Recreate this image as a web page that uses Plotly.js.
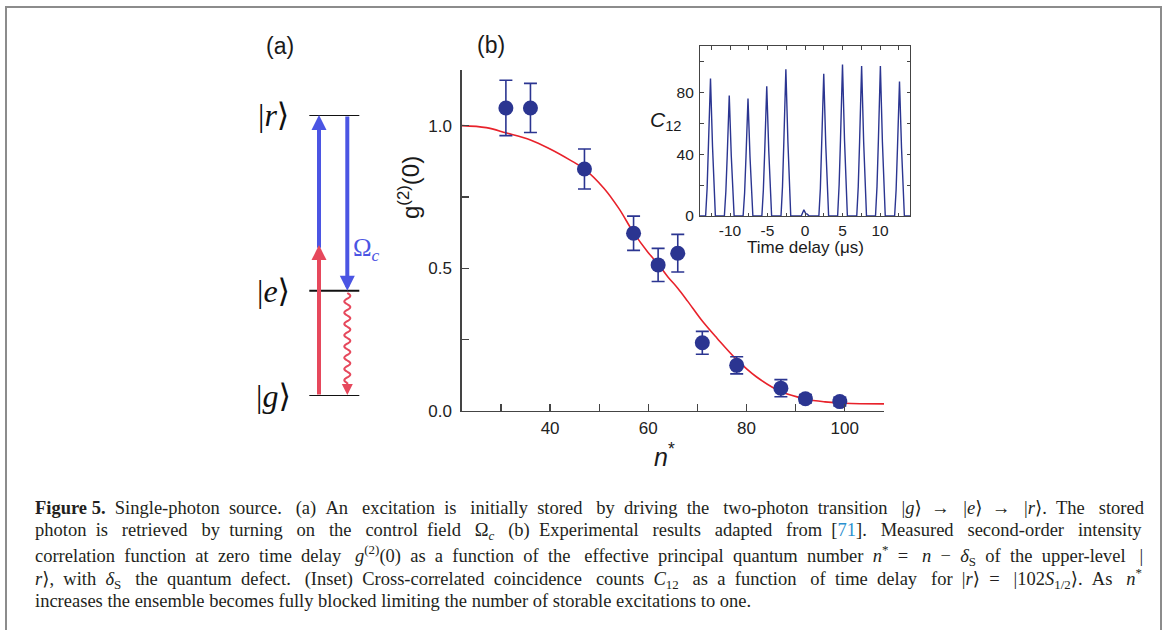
<!DOCTYPE html>
<html>
<head>
<meta charset="utf-8">
<script src="https://cdn.plot.ly/plotly-3.0.1.min.js"></script>
<style>html,body{margin:0;padding:0;background:#fff;}#chart{width:1165px;height:630px;}</style>
</head>
<body>
<div id="chart"></div>
<script>
// ---------- DATA ----------
// Panel (b): measured g2(0) vs n*
const nStar   = [31, 36, 47, 57, 62, 66, 71, 78, 87, 92, 99];
const g2      = [1.062, 1.062, 0.848, 0.623, 0.512, 0.553, 0.239, 0.160, 0.080, 0.043, 0.033];
const g2Err   = [0.097, 0.086, 0.070, 0.060, 0.058, 0.066, 0.040, 0.030, 0.030, 0.015, 0.015];
// Fit curve
const fitN    = [22, 27, 31, 36, 40, 44, 47, 51, 54, 57, 60, 62, 64, 66, 68, 71, 74, 78, 82, 87, 92, 96, 100, 108];
const fitG    = [1.0, 0.993, 0.975, 0.95, 0.918, 0.88, 0.848, 0.78, 0.71, 0.625, 0.555, 0.515, 0.47, 0.43, 0.385, 0.315, 0.255, 0.18, 0.12, 0.068, 0.042, 0.032, 0.027, 0.025];
// Inset: coincidence counts C12 vs time delay (us)
const delayT = [
  -14,
  -13.25, -13.05, -12.87, -12.6, -12.33, -12.15, -11.95,
  -10.75, -10.55, -10.37, -10.1, -9.83, -9.65, -9.45,
  -8.25, -8.05, -7.87, -7.6, -7.33, -7.15, -6.95,
  -5.75, -5.55, -5.37, -5.1, -4.83, -4.65, -4.45,
  -3.2, -3.0, -2.82, -2.55, -2.28, -2.1, -1.9,
  -0.5, -0.15, 0.1, 0.3, 0.55,
  1.85, 2.05, 2.23, 2.5, 2.77, 2.95, 3.15,
  4.35, 4.55, 4.73, 5.0, 5.27, 5.45, 5.65,
  6.9, 7.1, 7.28, 7.55, 7.82, 8.0, 8.2,
  9.4, 9.6, 9.78, 10.05, 10.32, 10.5, 10.7,
  11.95, 12.15, 12.33, 12.6, 12.87, 13.05, 13.25,
  14
];
const counts = [
  0,
  0, 18, 45, 89, 45, 18, 0,
  0, 16, 39, 78, 39, 16, 0,
  0, 15, 38, 76, 38, 15, 0,
  0, 17, 42, 84, 42, 17, 0,
  0, 19, 48, 95, 48, 19, 0,
  0, 4, 1.5, 1.2, 0,
  0, 18, 46, 92, 46, 18, 0,
  0, 20, 49, 98, 49, 20, 0,
  0, 19, 48, 97, 48, 19, 0,
  0, 19, 48, 97, 48, 19, 0,
  0, 17, 44, 87, 44, 17, 0,
  0
];
// Tick labels
const mainXTicks = [40, 60, 80, 100];
const mainYTicks = [0.0, 0.5, 1.0];
const insetXTickVals = [-10, -5, 0, 5, 10];
const insetXTickText = ['-10', '-5', '0', '5', '10'];
const insetYTicks = [0, 40, 80];
// Panel (a): level scheme (energies normalised g=0, r=1)
const levelNames  = ['|<i>g</i>⟩', '|<i>e</i>⟩', '|<i>r</i>⟩'];
const levelEnergy = [0, 0.375, 1.0];
const twoPhotonJunction = 0.537;
// Caption lines (the first four are justified)
const captionLines = [
  "<b>Figure\u00a05.</b> Single-photon source. (a) An excitation is initially stored by driving the two-photon transition |<i>g</i>⟩ → |<i>e</i>⟩ → |<i>r</i>⟩. The stored",
  "photon is retrieved by turning on the control field Ω<sub><i>c</i></sub> (b) Experimental results adapted from [<span style='color:#2a8fcf'>71</span>]. Measured second-order intensity",
  "correlation function at zero time delay <i>g</i><sup>(2)</sup>(0) as a function of the effective principal quantum number <i>n</i><sup>*</sup> = <i>n</i> − <i>δ</i><sub>S</sub> of the upper-level |",
  "<i>r</i>⟩, with <i>δ</i><sub>S</sub> the quantum defect. (Inset) Cross-correlated coincidence counts <i>C</i><sub>12</sub> as a function of time delay for |<i>r</i>⟩ = |102<i>S</i><sub>1/2</sub>⟩. As <i>n</i><sup>*</sup>",
  "increases the ensemble becomes fully blocked limiting the number of storable excitations to one."
];

// ---------- LAYOUT HELPERS ----------
const W = 1165, H = 630;
const px = x => x / W;
const py = y => 1 - y / H;
const NAVY = '#2b3591', RED = '#e8222b', BLUE = '#4b55e3', LRED = '#e6485c';
const AX = '#444';
const SANS = 'Liberation Sans, Arial, sans-serif';
const SERIF = 'Liberation Serif, DejaVu Serif, serif';
const CAP_SIZE = 18.5, CAP_LEFT = 33, CAP_RIGHT = 1139;

// text measuring for caption justification
const ctx = document.createElement('canvas').getContext('2d');
function measure(html, size) {
  let w = 0, bold = false, ital = false, small = false;
  html.split(/(<[^>]+>)/).forEach(tok => {
    if (!tok) return;
    if (tok[0] === '<') {
      const t = tok.toLowerCase();
      if (t === '<b>') bold = true; else if (t === '</b>') bold = false;
      else if (t === '<i>') ital = true; else if (t === '</i>') ital = false;
      else if (t === '<sub>' || t === '<sup>') small = true;
      else if (t === '</sub>' || t === '</sup>') small = false;
      return;
    }
    ctx.font = (ital ? 'italic ' : '') + (bold ? 'bold ' : '') + (small ? size * 0.7 : size) + 'px "Liberation Serif"';
    w += ctx.measureText(tok).width;
  });
  return w;
}
function splitWords(html) {
  const words = []; let cur = '', inTag = false;
  for (const ch of html) {
    if (ch === '<') inTag = true;
    if (ch === '>') inTag = false;
    if (ch === ' ' && !inTag) { words.push(cur); cur = ''; } else cur += ch;
  }
  words.push(cur);
  return words;
}
function justify(html, size, width) {
  const words = splitWords(html);
  ctx.font = size + 'px "Liberation Serif"';
  const sp = ctx.measureText('\u00a0').width || size * 0.25;
  const natural = measure(words.join('\u00a0'), size);
  const gaps = words.length - 1;
  const nsp = Math.max(0, Math.round((width - natural) / sp));
  let out = words[0];
  for (let i = 1; i <= gaps; i++) {
    const k = Math.floor(i * nsp / gaps) - Math.floor((i - 1) * nsp / gaps);
    out += '\u00a0'.repeat(1 + k) + words[i];
  }
  return out;
}

// energy axis mapping for diagram: g at 396px, r at 115px
const gPx = 396, rPx = 115;
const ePx = E => gPx - E * (gPx - rPx);
const eOf = p => (gPx - p) / (gPx - rPx);

const traces = [
  {x: fitN, y: fitG, type: 'scatter', mode: 'lines', line: {color: RED, width: 1.6, shape: 'spline', smoothing: 1},
   xaxis: 'x', yaxis: 'y', hoverinfo: 'skip'},
  {x: nStar, y: g2, type: 'scatter', mode: 'markers',
   marker: {color: NAVY, size: 15},
   error_y: {type: 'data', array: g2Err, visible: true, color: NAVY, thickness: 1.6, width: 6.5},
   xaxis: 'x', yaxis: 'y'},
  {x: delayT, y: counts, type: 'scatter', mode: 'lines', line: {color: NAVY, width: 1.4},
   xaxis: 'x2', yaxis: 'y2', hoverinfo: 'skip', cliponaxis: true}
];

// wavy spontaneous-emission line (decoration)
let wave = '';
const wx = 347.3, wTop = 293, wBot = 383, periods = 8, amp = 3;
const steps = 160;
for (let i = 0; i <= steps; i++) {
  const yy = wTop + (wBot - wTop) * i / steps;
  const xx = wx + amp * Math.sin(2 * Math.PI * periods * i / steps);
  wave += (i === 0 ? 'M' : 'L') + xx.toFixed(2) + ',' + eOf(yy).toFixed(4);
}

const shapes = [
  // outer frame
  {type: 'rect', xref: 'paper', yref: 'paper', x0: px(6), x1: px(1161), y0: -0.2, y1: py(7),
   line: {color: '#8c8c8c', width: 2}, fillcolor: 'rgba(0,0,0,0)'},
  {type: 'path', xref: 'x3', yref: 'y3', path: wave, line: {color: LRED, width: 2}}
];
levelEnergy.forEach(E => shapes.push({type: 'line', xref: 'x3', yref: 'y3', x0: 309.3, x1: 359.3, y0: E, y1: E,
  line: {color: '#111', width: 2}}));

const annotations = [];
const ann = (text, x, y, size, extra) => annotations.push(Object.assign({
  text, x: px(x), y: py(y), xref: 'paper', yref: 'paper', showarrow: false,
  font: {family: SANS, size, color: '#1a1a1a'}, xanchor: 'center', yanchor: 'middle'}, extra || {}));

ann('(a)', 280, 46, 23);
ann('(b)', 490.5, 45, 23);
ann('g<sup>(2)</sup>(0)', 409, 188, 24, {textangle: -90});
ann('<i>n</i><sup>*</sup>', 664, 455, 25);
ann('<i>C</i><sub>12</sub>', 666, 121, 21);
ann('Time delay (μs)', 805, 248, 17);

// level labels
levelNames.forEach((t, i) => ann(t, 273, ePx(levelEnergy[i]), 32, {font: {family: SERIF, size: 32, color: '#111'}}));
ann('Ω<sub><i>c</i></sub>', 351, 250, 24, {xanchor: 'left', font: {family: SERIF, size: 25, color: BLUE}});

// arrows (diagram)
const arrow = (x, yTail, yTip, color, w, size) => annotations.push({
  xref: 'x3', yref: 'y3', axref: 'x3', ayref: 'y3', x: x, y: yTip, ax: x, ay: yTail,
  text: '', showarrow: true, arrowhead: 2, arrowsize: size, arrowwidth: w, arrowcolor: color, standoff: 0});
arrow(319, twoPhotonJunction - 0.015, levelEnergy[2], BLUE, 4, 0.75);
arrow(319, levelEnergy[0], twoPhotonJunction, LRED, 4, 0.75);
arrow(347.3, levelEnergy[2], levelEnergy[1], BLUE, 4, 0.75);
arrow(347.3, eOf(381), eOf(395), LRED, 2, 1.1);

// caption
const capY = [508, 531.5, 555, 578, 601];
captionLines.forEach((t, i) => annotations.push({
  text: i < 4 ? justify(t, CAP_SIZE, CAP_RIGHT - CAP_LEFT) : t,
  x: px(CAP_LEFT), y: py(capY[i]), xref: 'paper', yref: 'paper', showarrow: false,
  xanchor: 'left', yanchor: 'middle', align: 'left', font: {family: SERIF, size: CAP_SIZE, color: '#231f20'}}));

const tickFont = {family: SANS, size: 17, color: '#222'};
const insetFont = {family: SANS, size: 15.5, color: '#222'};

const layout = {
  width: W, height: H,
  margin: {l: 0, r: 0, t: 0, b: 0, pad: 0},
  paper_bgcolor: '#fff', plot_bgcolor: 'rgba(0,0,0,0)',
  showlegend: false, hovermode: false,
  xaxis: {domain: [px(461.7), px(884)], range: [22, 108], anchor: 'y',
    tickmode: 'array', tickvals: mainXTicks, ticks: 'inside', ticklen: 7, tickwidth: 1.2, tickcolor: AX,
    minor: {tickmode: 'linear', tick0: 0, dtick: 10, ticks: 'inside', ticklen: 7, tickwidth: 1.2, tickcolor: AX},
    showline: true, linecolor: AX, linewidth: 1.4, showgrid: false, zeroline: false,
    tickfont: tickFont, ticklabelstandoff: 1, automargin: false},
  yaxis: {domain: [py(411), py(70)], range: [0, 1.195], anchor: 'x',
    tickmode: 'array', tickvals: mainYTicks, tickformat: '.1f', ticks: 'inside', ticklen: 7, tickwidth: 1.2, tickcolor: AX,
    minor: {tickmode: 'linear', tick0: 0, dtick: 0.25, ticks: 'inside', ticklen: 7, tickwidth: 1.2, tickcolor: AX},
    showline: true, linecolor: AX, linewidth: 1.4, showgrid: false, zeroline: false,
    tickfont: tickFont, ticklabelstandoff: 5, automargin: false},
  xaxis2: {domain: [px(700), px(910)], range: [-14, 14], anchor: 'y2',
    tickmode: 'array', tickvals: insetXTickVals, ticktext: insetXTickText, ticks: 'inside', ticklen: 3.5, tickwidth: 1, tickcolor: AX,
    minor: {tickmode: 'linear', tick0: 0, dtick: 2.5, ticks: 'inside', ticklen: 3.5, tickwidth: 1, tickcolor: AX},
    showline: true, mirror: 'allticks', linecolor: AX, linewidth: 1.1, showgrid: false, zeroline: false,
    tickfont: insetFont, ticklabelstandoff: 0, automargin: false},
  yaxis2: {domain: [py(216), py(46)], range: [0, 110], anchor: 'x2',
    tickmode: 'array', tickvals: insetYTicks, ticks: 'inside', ticklen: 3.5, tickwidth: 1, tickcolor: AX,
    minor: {tickmode: 'linear', tick0: 0, dtick: 20, ticks: 'inside', ticklen: 3.5, tickwidth: 1, tickcolor: AX},
    showline: true, mirror: 'allticks', linecolor: AX, linewidth: 1.1, showgrid: false, zeroline: false,
    tickfont: insetFont, ticklabelstandoff: 2, automargin: false},
  xaxis3: {domain: [px(230), px(430)], range: [230, 430], anchor: 'y3', visible: false, fixedrange: true},
  yaxis3: {domain: [py(gPx), py(rPx)], range: [0, 1], anchor: 'x3', visible: false, fixedrange: true},
  shapes, annotations
};

Plotly.newPlot('chart', traces, layout, {displayModeBar: false, staticPlot: true});
</script>
</body>
</html>
